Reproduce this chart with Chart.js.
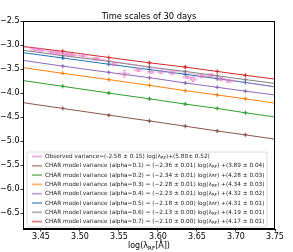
<!DOCTYPE html>
<html>
<head>
<meta charset="utf-8">
<script src="https://cdn.jsdelivr.net/npm/chart.js@4/dist/chart.umd.min.js"></script>
<style>
    html, body { margin: 0; padding: 0; background: #fff; }
</style>
</head>
<body>
<canvas id="chart" width="293" height="252"></canvas>
<script>
const FONT = "'DejaVu Sans', 'Liberation Sans', sans-serif";
const chartTitle = 'Time scales of 30 days';
const xTicks = [3.45, 3.50, 3.55, 3.60, 3.65, 3.70, 3.75];
const yTicks = [-6.5, -6.0, -5.5, -5.0, -4.5, -4.0, -3.5, -3.0, -2.5];

// model lines, read at the edges and at the marker positions
const lineX = [3.427, 3.478, 3.537, 3.589, 3.635, 3.676, 3.712, 3.75];
const alpha01 = [-4.20, -4.32, -4.46, -4.58, -4.69, -4.79, -4.87, -4.96];
const alpha02 = [-3.74, -3.86, -4.00, -4.12, -4.23, -4.32, -4.41, -4.50];
const alpha03 = [-3.47, -3.59, -3.72, -3.84, -3.95, -4.04, -4.12, -4.21];
const alpha04 = [-3.32, -3.44, -3.57, -3.68, -3.79, -3.88, -3.96, -4.04];
const alpha05 = [-3.16, -3.27, -3.40, -3.51, -3.61, -3.70, -3.78, -3.87];
const alpha06 = [-3.11, -3.22, -3.34, -3.46, -3.55, -3.64, -3.72, -3.80];
const alpha07 = [-3.03, -3.13, -3.26, -3.37, -3.46, -3.55, -3.63, -3.71];

// observed points with error bars
const obsX = [3.442, 3.450, 3.464, 3.472, 3.483, 3.490, 3.504, 3.521, 3.543, 3.557,
              3.575, 3.591, 3.604, 3.618, 3.637, 3.645, 3.656, 3.668, 3.681, 3.691];
const obsY = [-3.10, -3.10, -3.15, -3.17, -3.19, -3.21, -3.21, -3.29, -3.40, -3.60,
              -3.52, -3.56, -3.56, -3.58, -3.67, -3.71, -3.65, -3.63, -3.71, -3.75];
const obsXErr = [0.005, 0.004, 0.005, 0.004, 0.005, 0.004, 0.005, 0.004, 0.005, 0.006,
                 0.005, 0.004, 0.005, 0.004, 0.005, 0.004, 0.005, 0.004, 0.005, 0.004];
const obsYErr = [0.02, 0.02, 0.02, 0.02, 0.02, 0.02, 0.02, 0.02, 0.02, 0.07,
                 0.02, 0.02, 0.02, 0.02, 0.02, 0.05, 0.02, 0.02, 0.02, 0.02];
const obsLineX = [3.427, 3.75];
const obsLineY = [-3.04, -3.875];

const legendColors = ['#e377c2', '#8c564b', '#2ca02c', '#ff7f0e', '#9467bd', '#1f77b4', '#7f7f7f', '#d62728'];
const legendText = [
    ['Observed variance=(-2.58 \u00b1 0.15) log(\u03bb', ')+(5.80\u00b1 0.52)'],
    ['CHAR model variance (alpha=0.1) = (\u22122.36 \u00b1 0.01) log(\u03bb', ') +(3.89 \u00b1 0.04)'],
    ['CHAR model variance (alpha=0.2) = (\u22122.34 \u00b1 0.01) log(\u03bb', ') +(4.28 \u00b1 0.03)'],
    ['CHAR model variance (alpha=0.3) = (\u22122.28 \u00b1 0.01) log(\u03bb', ') +(4.34 \u00b1 0.03)'],
    ['CHAR model variance (alpha=0.4) = (\u22122.23 \u00b1 0.01) log(\u03bb', ') +(4.32 \u00b1 0.02)'],
    ['CHAR model variance (alpha=0.5) = (\u22122.18 \u00b1 0.00) log(\u03bb', ') +(4.31 \u00b1 0.01)'],
    ['CHAR model variance (alpha=0.6) = (\u22122.13 \u00b1 0.00) log(\u03bb', ') +(4.19 \u00b1 0.01)'],
    ['CHAR model variance (alpha=0.7) = (\u22122.10 \u00b1 0.00) log(\u03bb', ') +(4.17 \u00b1 0.01)'],
];

const models = [alpha01, alpha02, alpha03, alpha04, alpha05, alpha06, alpha07];
const markerRadius = lineX.map((x, i) => (i === 0 || i === lineX.length - 1) ? 0 : 2);

function modelSet(vals, color) {
    return {
        type: 'line',
        data: lineX.map((x, i) => ({ x, y: vals[i] })),
        borderColor: color,
        backgroundColor: color,
        borderWidth: 1,
        pointStyle: 'cross',
        pointRadius: markerRadius,
        pointBorderWidth: 1.2,
        pointBorderColor: color,
        tension: 0,
    };
}

const datasets = [
    {
        type: 'line',
        data: obsLineX.map((x, i) => ({ x, y: obsLineY[i] })),
        borderColor: 'rgba(227,119,194,0.55)',
        borderWidth: 1,
        pointRadius: 0,
    },
    {
        type: 'scatter',
        data: obsX.map((x, i) => ({ x, y: obsY[i] })),
        borderColor: 'rgba(227,119,194,0.7)',
        backgroundColor: 'rgba(0,0,0,0)',
        pointStyle: 'rect',
        pointRadius: 2.3,
        pointBorderWidth: 0.8,
    },
    ...models.map((m, i) => modelSet(m, legendColors[i + 1])),
];

function drawSub(ctx, x, y, before, after, size) {
    ctx.font = size + 'px ' + FONT;
    ctx.fillText(before, x, y);
    x += ctx.measureText(before).width;
    ctx.font = (size * 0.7) + 'px ' + FONT;
    ctx.fillText('RF', x, y + size * 0.22);
    x += ctx.measureText('RF').width;
    ctx.font = size + 'px ' + FONT;
    ctx.fillText(after, x, y);
    return x + ctx.measureText(after).width;
}

function subWidth(ctx, before, after, size) {
    ctx.font = size + 'px ' + FONT;
    let w = ctx.measureText(before).width + ctx.measureText(after).width;
    ctx.font = (size * 0.7) + 'px ' + FONT;
    return w + ctx.measureText('RF').width;
}

const decorations = {
    id: 'decorations',
    afterDatasetsDraw(chart) {
        const ctx = chart.ctx;
        const xs = chart.scales.x, ys = chart.scales.y;
        ctx.save();
        ctx.strokeStyle = 'rgba(227,119,194,0.7)';
        ctx.lineWidth = 0.8;
        obsX.forEach((x, i) => {
            const px = xs.getPixelForValue(x), py = ys.getPixelForValue(obsY[i]);
            const x0 = xs.getPixelForValue(x - obsXErr[i]), x1 = xs.getPixelForValue(x + obsXErr[i]);
            const y0 = ys.getPixelForValue(obsY[i] - obsYErr[i]), y1 = ys.getPixelForValue(obsY[i] + obsYErr[i]);
            ctx.beginPath();
            ctx.moveTo(x0, py); ctx.lineTo(x1, py);
            ctx.moveTo(x0, py - 1.5); ctx.lineTo(x0, py + 1.5);
            ctx.moveTo(x1, py - 1.5); ctx.lineTo(x1, py + 1.5);
            ctx.moveTo(px, y0); ctx.lineTo(px, y1);
            ctx.moveTo(px - 1.5, y0); ctx.lineTo(px + 1.5, y0);
            ctx.moveTo(px - 1.5, y1); ctx.lineTo(px + 1.5, y1);
            ctx.stroke();
        });
        ctx.restore();
    },
    afterDraw(chart) {
        const ctx = chart.ctx;
        const a = chart.chartArea;
        ctx.save();
        // frame
        ctx.strokeStyle = '#000';
        ctx.lineWidth = 1;
        ctx.strokeRect(a.left + 0.5, a.top + 0.5, a.right - a.left - 1, a.bottom - a.top - 1);

        // title
        ctx.fillStyle = '#000';
        ctx.textAlign = 'center';
        ctx.textBaseline = 'alphabetic';
        ctx.font = '8.3px ' + FONT;
        ctx.fillText(chartTitle, (a.left + a.right) / 2, 18.5);

        // x axis label
        ctx.textAlign = 'left';
        const xl = subWidth(ctx, 'log(\u03bb', '[\u00c5])', 8);
        drawSub(ctx, (a.left + a.right) / 2 - xl / 2, 248, 'log(\u03bb', '[\u00c5])', 8);

        // legend box
        const bx = 27, by = 152, bw = 240, bh = 75;
        ctx.fillStyle = 'rgba(255,255,255,0.85)';
        ctx.strokeStyle = '#d0d0d0';
        ctx.lineWidth = 0.8;
        ctx.beginPath();
        ctx.roundRect(bx, by, bw, bh, 2);
        ctx.fill();
        ctx.stroke();

        const fs = 5.75;
        legendText.forEach((t, i) => {
            const y = 156.5 + i * 9.3;
            ctx.strokeStyle = legendColors[i];
            ctx.globalAlpha = 0.6;
            ctx.lineWidth = 1.8;
            ctx.beginPath();
            ctx.moveTo(32, y); ctx.lineTo(42, y);
            ctx.stroke();
            ctx.globalAlpha = 1;
            ctx.fillStyle = '#222';
            ctx.textBaseline = 'middle';
            drawSub(ctx, 45, y, t[0], t[1], fs);
        });
        ctx.restore();
    },
};

new Chart(document.getElementById('chart'), {
    data: { datasets },
    options: {
        responsive: false,
        animation: false,
        layout: { padding: { top: 21, right: 18, left: 0, bottom: 0 } },
        plugins: { legend: { display: false }, tooltip: { enabled: false } },
        scales: {
            x: {
                type: 'linear',
                min: 3.427,
                max: 3.75,
                afterBuildTicks: s => { s.ticks = xTicks.map(v => ({ value: v })); },
                afterFit: s => { s.height = 23; },
                ticks: {
                    callback: v => v.toFixed(2),
                    font: { size: 8, family: FONT },
                    color: '#000',
                    padding: 1,
                    maxRotation: 0,
                    autoSkip: false,
                },
                grid: { drawOnChartArea: false, tickLength: 2.5, color: '#000', lineWidth: 0.8 },
                border: { display: true, color: '#000' },
            },
            y: {
                type: 'linear',
                min: -6.83,
                max: -2.5,
                afterBuildTicks: s => { s.ticks = yTicks.map(v => ({ value: v })); },
                afterFit: s => { s.width = 23; },
                ticks: {
                    callback: v => (v < 0 ? '\u2212' : '') + Math.abs(v).toFixed(1),
                    font: { size: 8, family: FONT },
                    color: '#000',
                    padding: 1,
                    autoSkip: false,
                },
                grid: { drawOnChartArea: false, tickLength: 2.5, color: '#000', lineWidth: 0.8 },
                border: { display: true, color: '#000' },
            },
        },
    },
    plugins: [decorations],
});
</script>
</body>
</html>
